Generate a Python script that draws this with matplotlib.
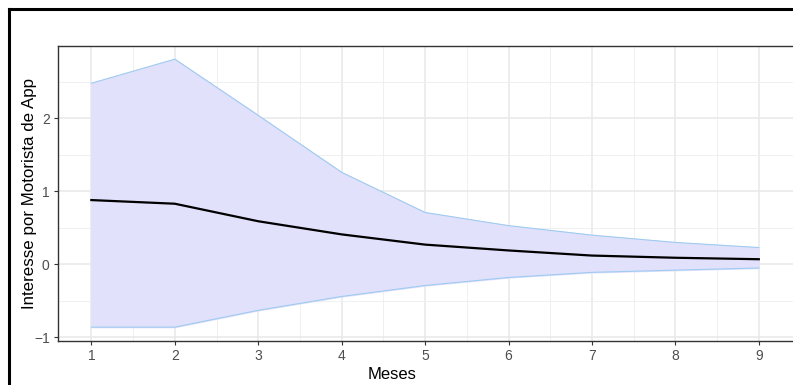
import numpy as np
import matplotlib
matplotlib.use("Agg")
import matplotlib.pyplot as plt
from matplotlib.lines import Line2D

plt.rcParams['font.family'] = ['Liberation Sans', 'DejaVu Sans']

meses = [1, 2, 3, 4, 5, 6, 7, 8, 9]
irf = [0.88, 0.83, 0.59, 0.41, 0.27, 0.19, 0.12, 0.09, 0.07]
lower = [-0.86, -0.86, -0.63, -0.44, -0.29, -0.18, -0.11, -0.08, -0.05]
upper = [2.48, 2.81, 2.04, 1.26, 0.71, 0.53, 0.40, 0.30, 0.23]

xticks = [1, 2, 3, 4, 5, 6, 7, 8, 9]
yticks = [-1, 0, 1, 2]

fig = plt.figure(figsize=(7.93, 3.85), dpi=100)
ax = fig.add_axes([58 / 793, 44 / 385, 735 / 793, 295 / 385])

ax.fill_between(meses, lower, upper, color='#E1E1FC', zorder=2)
ax.plot(meses, upper, color='#9FCBF0', lw=0.8, zorder=3)
ax.plot(meses, lower, color='#9FCBF0', lw=0.8, zorder=3)
ax.plot(meses, irf, color='black', lw=1.6, zorder=4)

ax.set_xlim(0.6, 9.41)
ax.set_ylim(-1.05, 2.99)
ax.set_xticks(xticks)
ax.set_yticks(yticks)
ax.set_xticks(np.arange(1.5, 9.5, 1), minor=True)
ax.set_yticks([-0.5, 0.5, 1.5, 2.5], minor=True)
ax.grid(True, which='major', color='#E8E8E8', lw=1.1, zorder=0)
ax.grid(True, which='minor', color='#F0F0F0', lw=0.7, zorder=0)
ax.set_axisbelow(True)
ax.tick_params(which='major', length=3, color='#333333', labelsize=10, labelcolor='#4D4D4D', pad=3)
ax.tick_params(which='minor', length=0)

for s in ['left', 'top', 'bottom']:
    ax.spines[s].set_color('#333333')
    ax.spines[s].set_linewidth(1.0)
ax.spines['right'].set_visible(False)

ax.set_xlabel('Meses', fontsize=12)
ax.set_ylabel('Interesse por Motorista de App', fontsize=12.2)
ax.xaxis.set_label_coords(0.5 - 33 / 735, -0.088)
ax.yaxis.set_label_coords(-0.028, 0.5)

# black frame of the screenshot
fig.add_artist(Line2D([9 / 793, 1], [1 - 9 / 385, 1 - 9 / 385], color='black', lw=2.2, transform=fig.transFigure))
fig.add_artist(Line2D([9 / 793, 9 / 793], [0, 1 - 9 / 385], color='black', lw=2.2, transform=fig.transFigure))

fig.savefig('out.png', dpi=100)
